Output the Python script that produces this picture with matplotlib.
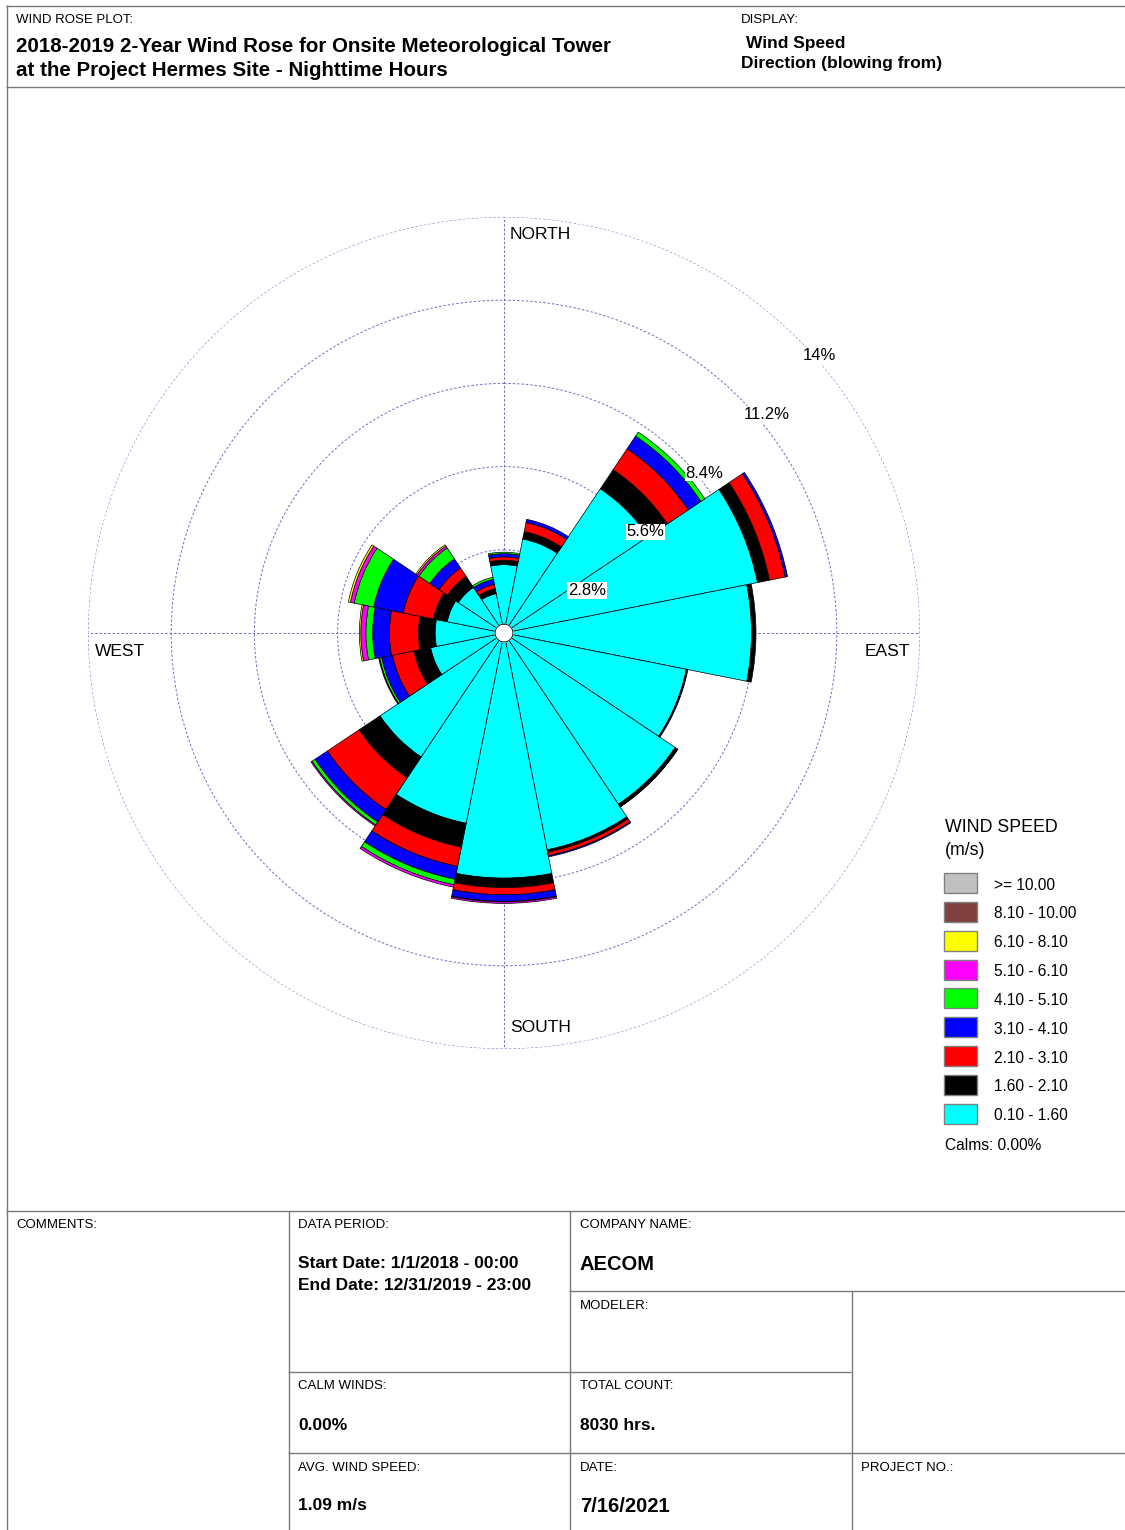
import numpy as np
import matplotlib
matplotlib.use("Agg")
import matplotlib.pyplot as plt
from matplotlib.patches import Rectangle

plt.rcParams['font.family'] = ['Liberation Sans', 'DejaVu Sans']

# ---- wind rose data (percent of hours, by direction the wind blows from) ----
directions = ['N', 'NNE', 'NE', 'ENE', 'E', 'ESE', 'SE', 'SSE',
              'S', 'SSW', 'SW', 'WSW', 'W', 'WNW', 'NW', 'NNW']

speed_labels = ['0.10 - 1.60', '1.60 - 2.10', '2.10 - 3.10', '3.10 - 4.10',
                '4.10 - 5.10', '5.10 - 6.10', '6.10 - 8.10', '8.10 - 10.00',
                '>= 10.00']
speed_colors = ['#00ffff', '#000000', '#ff0000', '#0000ff', '#00ff00',
                '#ff00ff', '#ffff00', '#804040', '#c0c0c0']

freq_0p1_1p6 = [2.30, 3.23, 5.84, 8.70, 8.33, 6.26, 6.93, 7.44,
                8.25, 6.53, 5.02, 2.52, 2.32, 1.95, 1.85, 1.35]
freq_1p6_2p1 = [0.15, 0.25, 0.77, 0.41, 0.15, 0.01, 0.08, 0.08,
                0.32, 0.82, 0.84, 0.57, 0.56, 0.47, 0.44, 0.17]
freq_2p1_3p1 = [0.11, 0.31, 0.85, 0.54, 0.00, 0.02, 0.02, 0.12,
                0.24, 0.66, 1.29, 0.74, 0.98, 1.04, 0.34, 0.15]
freq_3p1_4p1 = [0.11, 0.11, 0.51, 0.08, 0.00, 0.02, 0.01, 0.04,
                0.22, 0.44, 0.50, 0.37, 0.56, 1.01, 0.37, 0.17]
freq_4p1_5p1 = [0.05, 0.00, 0.16, 0.00, 0.00, 0.00, 0.00, 0.00,
                0.02, 0.19, 0.12, 0.07, 0.23, 0.67, 0.44, 0.07]
freq_5p1_6p1 = [0.00, 0.00, 0.00, 0.00, 0.00, 0.00, 0.00, 0.00,
                0.05, 0.08, 0.04, 0.03, 0.17, 0.13, 0.08, 0.00]
freq_6p1_8p1 = [0.00, 0.00, 0.00, 0.00, 0.00, 0.00, 0.00, 0.00,
                0.00, 0.00, 0.00, 0.00, 0.05, 0.07, 0.05, 0.00]
freq_8p1_10 = [0.0] * 16
freq_ge_10 = [0.0] * 16

ring_values = [2.8, 5.6, 8.4, 11.2, 14.0]
ring_labels = ['2.8%', '5.6%', '8.4%', '11.2%', '14%']
calm_radius = 0.3

# ---- page geometry (pixels) ----
W, H = 1125, 1530
fig = plt.figure(figsize=(W / 100, H / 100), dpi=100)
page = fig.add_axes([0, 0, 1, 1])
page.set_xlim(0, W)
page.set_ylim(H, 0)
page.axis('off')

frame_c = '#7a7a7a'


def hline(y, x0, x1):
    page.plot([x0, x1], [y, y], color=frame_c, lw=1.0, solid_capstyle='butt')


def vline(x, y0, y1):
    page.plot([x, x], [y0, y1], color=frame_c, lw=1.0, solid_capstyle='butt')


# outer frame and header/footer rules
hline(5.5, 6, W)
vline(6.5, 5, H)
hline(87, 6, W)
hline(1211, 6, W)
vline(288.5, 1211, H)
vline(569.5, 1211, H)
vline(851.5, 1291, H)
hline(1291, 569, W)
hline(1372, 288, 851)
hline(1453, 288, W)

small = 9.5
bold_sz = 12.5


def txt(x, y, s, size=small, weight='normal', **kw):
    page.text(x, y + 2, s, fontsize=size, fontweight=weight, ha='left',
              va='center', **kw)


# header
txt(16, 18, 'WIND ROSE PLOT:')
txt(16, 44, '2018-2019 2-Year Wind Rose for Onsite Meteorological Tower',
    size=14.8, weight='bold')
txt(16, 68, 'at the Project Hermes Site - Nighttime Hours', size=14.8,
    weight='bold')
txt(741, 18, 'DISPLAY:')
txt(746, 41, 'Wind Speed', size=bold_sz, weight='bold')
txt(741, 61, 'Direction (blowing from)', size=bold_sz, weight='bold')

# footer table
txt(16, 1223, 'COMMENTS:')
txt(298, 1223, 'DATA PERIOD:')
txt(298, 1262, 'Start Date: 1/1/2018 - 00:00', size=bold_sz, weight='bold')
txt(298, 1283, 'End Date: 12/31/2019 - 23:00', size=bold_sz, weight='bold')
txt(580, 1223, 'COMPANY NAME:')
txt(580, 1262, 'AECOM', size=14.5, weight='bold')
txt(580, 1304, 'MODELER:')
txt(298, 1384, 'CALM WINDS:')
txt(298, 1423, '0.00%', size=bold_sz, weight='bold')
txt(580, 1384, 'TOTAL COUNT:')
txt(580, 1423, '8030 hrs.', size=bold_sz, weight='bold')
txt(298, 1466, 'AVG. WIND SPEED:')
txt(298, 1504, '1.09 m/s', size=bold_sz, weight='bold')
txt(580, 1466, 'DATE:')
txt(580, 1504, '7/16/2021', size=14.5, weight='bold')
txt(861, 1466, 'PROJECT NO.:')

# cardinal labels
card = 12.5
txt(510, 232, 'NORTH', size=card)
txt(510, 1025, 'SOUTH', size=card)
txt(95, 649, 'WEST', size=card)
txt(865, 649, 'EAST', size=card)

# legend
txt(945, 825, 'WIND SPEED', size=12.8)
txt(945, 848, '(m/s)', size=12.8)
leg_y0, leg_dy = 883, 28.85
for i, (lab, col) in enumerate(zip(speed_labels[::-1], speed_colors[::-1])):
    yc = leg_y0 + i * leg_dy
    page.add_patch(Rectangle((944, yc - 10), 33, 20, facecolor=col,
                             edgecolor='#808080', lw=1.0))
    txt(994, yc, lab, size=11.2)
txt(945, 1144, 'Calms: 0.00%', size=11.2)

# ---- polar wind rose ----
cx, cy, R = 504, 633, 416
rmax = ring_values[-1]
rax = fig.add_axes([(cx - R) / W, 1 - (cy + R) / H, 2 * R / W, 2 * R / H],
                   projection='polar')
rax.set_theta_zero_location('N')
rax.set_theta_direction(-1)
rax.set_ylim(0, rmax)
rax.axis('off')
rax.patch.set_alpha(0)

grid_c = '#6c6cc8'
circ = np.linspace(0, 2 * np.pi, 1441)
for rv in ring_values:
    rax.plot(circ, np.full_like(circ, rv), color=grid_c, lw=0.7,
             ls=(0, (2.5, 2.0)), zorder=0)
for ang in [0, np.pi / 2, np.pi, 1.5 * np.pi]:
    rax.plot([ang, ang], [0, rmax], color=grid_c, lw=0.7,
             ls=(0, (2.5, 2.0)), zorder=0)

theta = np.deg2rad(np.arange(16) * 22.5)
width = 2 * np.pi / 16
bins = [freq_0p1_1p6, freq_1p6_2p1, freq_2p1_3p1, freq_3p1_4p1, freq_4p1_5p1,
        freq_5p1_6p1, freq_6p1_8p1, freq_8p1_10, freq_ge_10]
bottom = np.zeros(16)
for vals, col in zip(bins, speed_colors):
    h = np.asarray(vals, dtype=float)
    m = h > 0
    if m.any():
        rax.bar(theta[m], h[m], width=width, bottom=bottom[m], color=col,
                edgecolor='black', linewidth=0.5, zorder=2)
    bottom += h

# calm circle
rax.fill(circ, np.full_like(circ, calm_radius), color='white', zorder=3)
rax.plot(circ, np.full_like(circ, calm_radius), color='black', lw=0.6,
         zorder=3)

# ring percentage labels along the NE diagonal
for rv, lab in zip(ring_values, ring_labels):
    rax.annotate(lab, xy=(np.pi / 4, rv), xytext=(3.5, -6.5),
                 textcoords='offset points', ha='left', va='top',
                 fontsize=12, zorder=5,
                 bbox=dict(facecolor='white', edgecolor='none', pad=0.6))

fig.savefig('out.png', dpi=100, facecolor='white')
